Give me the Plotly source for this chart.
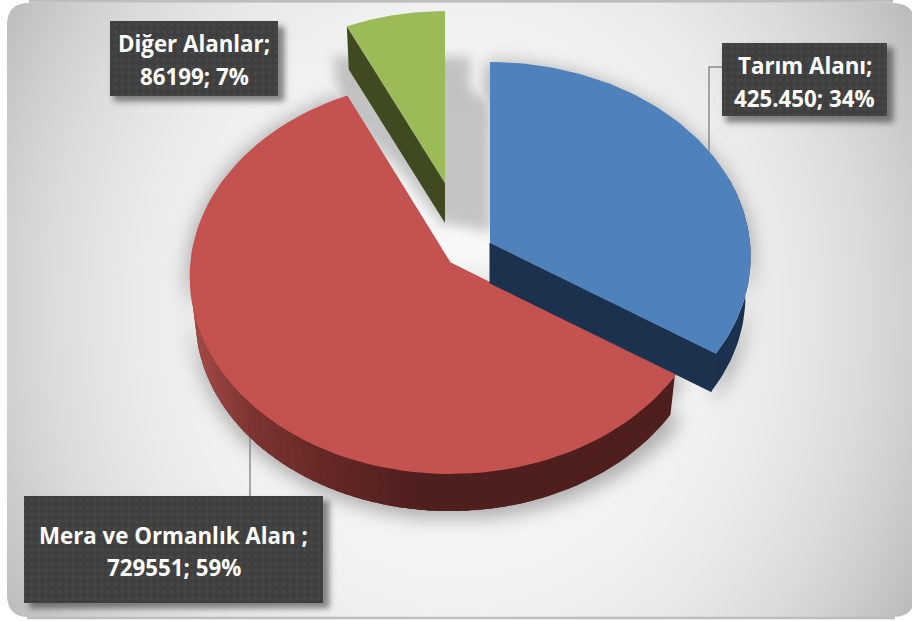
import numpy as np
import plotly.graph_objects as go

# ---- data ----
categories = ["Tarım Alanı", "Mera ve Ormanlık Alan", "Diğer Alanlar"]
values = [425450, 729551, 86199]
label_lines = [["Tarım Alanı;", "425.450; 34%"],
               ["Mera ve Ormanlık Alan ;", "729551; 59%"],
               ["Diğer Alanlar;", "86199; 7%"]]

# ---- styles / geometry ----
W, H = 912, 621
TOP = ["#4f81bd", "#c4524f", "#9bbb59"]
WALL = ["#1c314d", "#4f1f1e", "#3f4a20"]
TIPS = [(490, 243), (450, 263), (445, 183)]
SCALES = [1.0, 1.0, 0.95]
AS = [260.0, 259.0, 260.0]
BS = [193.6, 195.5, 193.6]
DEPTHS = [40.0, 42.0, 40.0]
P, BOT = 0.07, 0.98
BOXES = [(722, 43, 887, 116), (24, 496, 323, 603), (110, 21, 278, 96)]
LINE_Y = [[65, 98], [535, 567], [43, 76]]
LEADERS = [[(722, 67), (709, 67), (709, 170)], [(250, 496), (250, 420)]]

total = sum(values)
edges = np.cumsum([0] + values) / total * 360.0


def rim(th, i, bottom=False):
    th = np.radians(np.asarray(th, float))
    u, v = np.sin(th), -np.cos(th)
    s = SCALES[i] / (1 - P * v) * (BOT if bottom else 1.0)
    cx, cy = TIPS[i]
    return cx + AS[i] * u * s, cy + BS[i] * v * s + (DEPTHS[i] if bottom else 0.0)


def wedge(i):
    th = np.linspace(edges[i], edges[i + 1], 90)
    x, y = rim(th, i)
    return np.r_[TIPS[i][0], x], np.r_[TIPS[i][1], y]


def solid(x, y, color, lw=0):
    return go.Scatter(x=list(x) + [x[0]], y=list(y) + [y[0]], mode="lines", fill="toself",
                      fillcolor=color, line=dict(color=color, width=lw),
                      hoverinfo="skip", showlegend=False)


def red_wall_color(x):
    stops_x = [190, 250, 330, 420]
    stops = np.array([[165, 76, 73], [125, 52, 50], [100, 40, 38], [79, 31, 30]], float)
    c = [np.interp(x, stops_x, stops[:, k]) for k in range(3)]
    return "rgb(%d,%d,%d)" % tuple(c)


# ---- background: soft panel gradient and blurred drop shadows ----
STEP = 3
gx = np.arange(0, W + 6, STEP, dtype=float)
gy = np.arange(0, H + 6, STEP, dtype=float)
XX, YY = np.meshgrid(gx, gy)


def mask(px, py):
    px, py = np.asarray(px, float), np.asarray(py, float)
    inside = np.zeros(XX.shape, bool)
    j = len(px) - 1
    for k in range(len(px)):
        with np.errstate(divide="ignore", invalid="ignore"):
            c = ((py[k] > YY) != (py[j] > YY)) & (
                XX < (px[j] - px[k]) * (YY - py[k]) / (py[j] - py[k]) + px[k])
        inside ^= c
        j = k
    return inside.astype(float)


def blur(m, sigma):
    r = int(3 * sigma / STEP) + 1
    t = np.arange(-r, r + 1) * STEP
    g = np.exp(-t ** 2 / (2 * sigma ** 2))
    g /= g.sum()
    pad = np.pad(m, r, mode="edge")
    pad = np.apply_along_axis(lambda a: np.convolve(a, g, "same"), 0, pad)
    pad = np.apply_along_axis(lambda a: np.convolve(a, g, "same"), 1, pad)
    return pad[r:-r, r:-r]


def outline(i):
    th = np.linspace(edges[i], edges[i + 1], 60)
    tx, ty = rim(th, i)
    bx, by = rim(th[::-1], i, True)
    return np.r_[tx, bx], np.r_[ty, by]


dx = (XX - 456) / 456
dy = (YY - 310) / 310
d = np.sqrt(dx ** 2 + 0.35 * dy ** 2) / np.sqrt(1.35)
bg = 248 - 63 * np.clip(d, 0, 1) ** 3

shadow = np.zeros(XX.shape)
for i in (0, 1):
    ox, oy = outline(i)
    xs = np.r_[TIPS[i][0], ox]
    ys = np.r_[TIPS[i][1], oy]
    cx, cy = xs.mean(), ys.mean()
    xs2 = cx + (xs - cx) * 1.03
    ys2 = cy + (ys - cy) * 1.03 + 3
    shadow = np.maximum(shadow, blur(mask(xs2, ys2), 9))
gap = blur(mask([332, 470, 470, 492, 492, 440, 400, 340], [56, 56, 88, 100, 232, 222, 170, 110]), 6)
shadow = np.maximum(shadow, gap * 0.72)
glow = np.exp(-((XX - 456) ** 2 + (YY - 245) ** 2) / (2 * 9.0 ** 2))
shadow = shadow * (1 - glow)
z = bg * (1 - 0.29 * shadow)
for x0, y0, x1, y1 in BOXES:
    s = blur(mask([x0 + 4, x1 + 5, x1 + 5, x0 + 4], [y0 + 5, y0 + 5, y1 + 5, y1 + 5]), 3)
    z = z * (1 - 0.45 * s)

fig = go.Figure()
fig.add_trace(go.Heatmap(x0=0, dx=STEP, y0=0, dy=STEP, z=np.round(z, 1).tolist(), zmin=0, zmax=255,
                         zsmooth="best", showscale=False, hoverinfo="skip",
                         colorscale=[[0, "rgb(0,0,0)"], [1, "rgb(255,255,255)"]]))

# leader lines
for pts in LEADERS:
    fig.add_trace(go.Scatter(x=[p[0] for p in pts], y=[p[1] for p in pts], mode="lines",
                             line=dict(color="#8c8c8c", width=1.5), hoverinfo="skip", showlegend=False))

# Red slice: wall as one dark base, then overlapping strips for the shading, then the top
th_b0 = np.linspace(edges[1], 295, 80)
tx, ty = rim(th_b0, 1)
bx, by = rim(th_b0[::-1], 1, True)
fig.add_trace(solid(np.r_[tx, bx], np.r_[ty, by], WALL[1]))
th_red = np.arange(295, edges[1] + 40, -2.0)
for t0 in th_red:
    t1 = t0 - 3.0
    seg = np.linspace(t0, t1, 4)
    x0, y0 = rim(seg, 1)
    x2, y2 = rim(seg[::-1], 1, True)
    fig.add_trace(solid(np.r_[x0, x2], np.r_[y0, y2], red_wall_color(rim(t0 - 1.0, 1)[0])))
fig.add_trace(solid(*wedge(1), TOP[1], lw=1.5))

# Blue slice
th_b = np.linspace(70, edges[1], 40)
tx, ty = rim(th_b, 0)
bx, by = rim(th_b[::-1], 0, True)
fig.add_trace(solid(np.r_[tx, bx], np.r_[ty, by], WALL[0]))
ex, ey = rim(edges[1], 0)
fx, fy = rim(edges[1], 0, True)
tip = TIPS[0]
fig.add_trace(solid([tip[0], ex, fx, tip[0]], [tip[1], ey, fy, tip[1] + DEPTHS[0]], WALL[0], lw=1))
fig.add_trace(solid(*wedge(0), TOP[0]))

# Green slice
ex, ey = rim(edges[2], 2)
fx, fy = rim(edges[2], 2, True)
tip = TIPS[2]
fig.add_trace(solid([tip[0], ex, fx, tip[0]], [tip[1], ey, fy, tip[1] + DEPTHS[2]], WALL[2]))
fig.add_trace(solid(*wedge(2), TOP[2]))

# Label boxes
for x0, y0, x1, y1 in BOXES:
    fig.add_trace(go.Scatter(x=[x0, x1, x1, x0, x0], y=[y0, y0, y1, y1, y0], mode="lines", fill="toself",
                             fillcolor="#3f3f3f", line=dict(width=0),
                             fillpattern=dict(shape=".", fgcolor="#4d4d4d", bgcolor="#3f3f3f",
                                              size=7, solidity=0.25),
                             hoverinfo="skip", showlegend=False))

annotations = []
for lines, box, ys in zip(label_lines, BOXES, LINE_Y):
    xc = (box[0] + box[2]) / 2
    for txt, yy in zip(lines, ys):
        annotations.append(dict(x=xc, y=yy, text=txt, showarrow=False, xanchor="center", yanchor="middle",
                                font=dict(family="Open Sans", size=22.3, color="white", weight="bold")))

# Panel corners (white outside the rounded panel) and thin rim lines
L, T, R, Bt, r = 7, 3, 915, 617, 22
panel = (f"M -5 -5 H {W + 5} V {H + 5} H -5 Z "
         f"M {L + r} {T} H {R - r} Q {R} {T} {R} {T + r} V {Bt - r} Q {R} {Bt} {R - r} {Bt} "
         f"H {L + r} Q {L} {Bt} {L} {Bt - r} V {T + r} Q {L} {T} {L + r} {T} Z")
shapes = [dict(type="path", path=panel, fillcolor="white", line=dict(width=0), layer="above",
               xref="x", yref="y", fillrule="evenodd"),
          dict(type="line", x0=L + r, x1=R - r, y0=1.2, y1=1.2, xref="x", yref="y",
               line=dict(color="#bdbdbd", width=3), layer="above"),
          dict(type="line", x0=L + r - 2, x1=R - r + 2, y0=618, y1=618, xref="x", yref="y",
               line=dict(color="#bdbdbd", width=2.5), layer="above")]

fig.update_layout(width=W, height=H, margin=dict(l=0, r=0, t=0, b=0), autosize=False,
                  paper_bgcolor="white", plot_bgcolor="white",
                  xaxis=dict(range=[0, W], visible=False, fixedrange=True),
                  yaxis=dict(range=[H, 0], visible=False, fixedrange=True),
                  shapes=shapes, annotations=annotations, showlegend=False)
fig.write_html("out.html", config=dict(displayModeBar=False),
               post_script="document.body.style.margin='0';document.body.style.overflow='hidden';")
